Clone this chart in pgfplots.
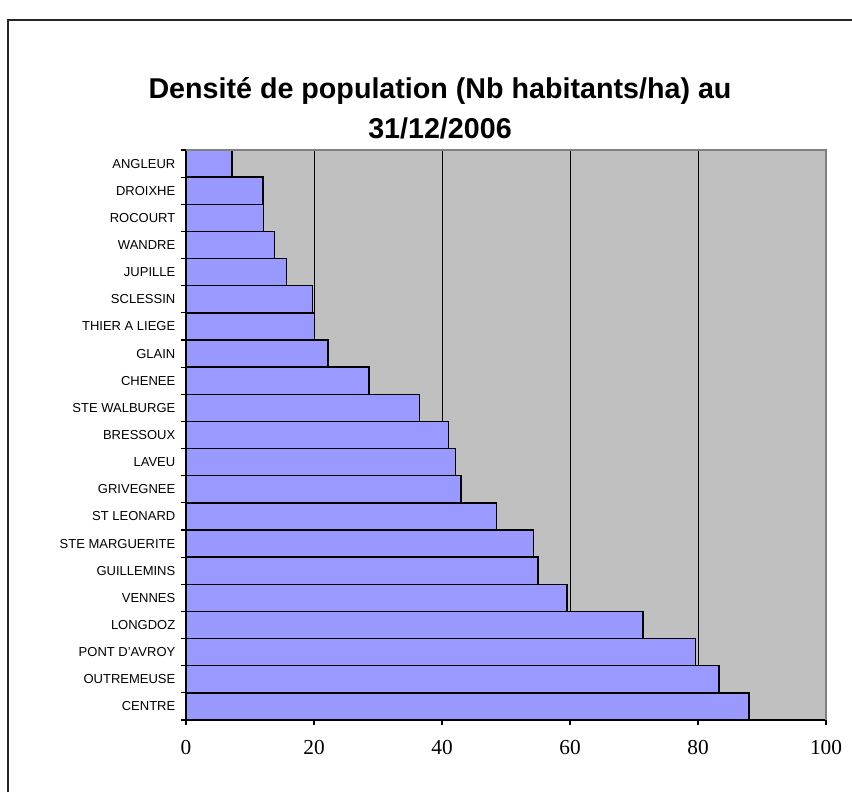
\documentclass[border=0pt]{standalone}
\usepackage{fontspec}
\setmainfont{Liberation Sans}
\newfontfamily\serif{Liberation Serif}
\usepackage{pgfplots}
\pgfplotsset{compat=1.18}
\definecolor{barblue}{HTML}{9999FF}
\definecolor{plotgray}{HTML}{C0C0C0}
\begin{document}
\begin{tikzpicture}[x=0.75pt,y=0.75pt]
\path[use as bounding box] (0,0) rectangle (852,792);
\draw[line width=1.5pt,black!85] (8,0) -- (8,772) -- (852,772);
\node[align=center,font=\fontsize{21.5pt}{30pt}\selectfont\bfseries] at (440,684)
  {Densité de population (Nb habitants/ha) au\\31/12/2006};
\begin{axis}[
  at={(139.5pt,54pt)}, anchor=south west,
  width=480pt, height=427.5pt, scale only axis,
  xbar, bar width=1,
  xmin=0, xmax=100,
  ymin=-0.5, ymax=20.5,
  axis x line*=bottom, axis y line*=left,
  axis line style={line width=1.1pt,black},
  axis background/.style={fill=plotgray},
  xtick={0,20,40,60,80,100},
  xmajorgrids, major grid style={black,line width=0.75pt},
  ytick={0,...,20},
  yticklabels={CENTRE,OUTREMEUSE,PONT D'AVROY,LONGDOZ,VENNES,GUILLEMINS,STE MARGUERITE,ST LEONARD,GRIVEGNEE,LAVEU,BRESSOUX,STE WALBURGE,CHENEE,GLAIN,THIER A LIEGE,SCLESSIN,JUPILLE,WANDRE,ROCOURT,DROIXHE,ANGLEUR},
  minor ytick={-0.5,0.5,...,20.5},
  major y tick style={draw=none},
  minor y tick style={black,line width=0.9pt},
  minor tick length=4pt,
  x tick style={black,line width=0.9pt},
  major tick length=4pt,
  tick align=outside,
  yticklabel style={font=\fontsize{9.75pt}{11pt}\selectfont, xshift=-0.5pt},
  xticklabel style={font=\fontsize{16pt}{18pt}\selectfont\serif, yshift=-8pt},
  /pgf/number format/assume math mode=true,
  clip=false,
]
\addplot[fill=barblue, draw=black, line width=1.1pt] coordinates {
(88.0,0) (83.3,1) (79.6,2) (71.4,3) (59.5,4) (55.0,5) (54.3,6) (48.5,7) (43.0,8) (42.1,9) (41.0,10) (36.5,11) (28.6,12) (22.2,13) (20.1,14) (19.8,15) (15.7,16) (13.8,17) (12.1,18) (12.0,19) (7.2,20)
};
\draw[gray,line width=1pt] (rel axis cs:0,1) -- (rel axis cs:1,1) -- (rel axis cs:1,0);
\end{axis}
\end{tikzpicture}
\end{document}
